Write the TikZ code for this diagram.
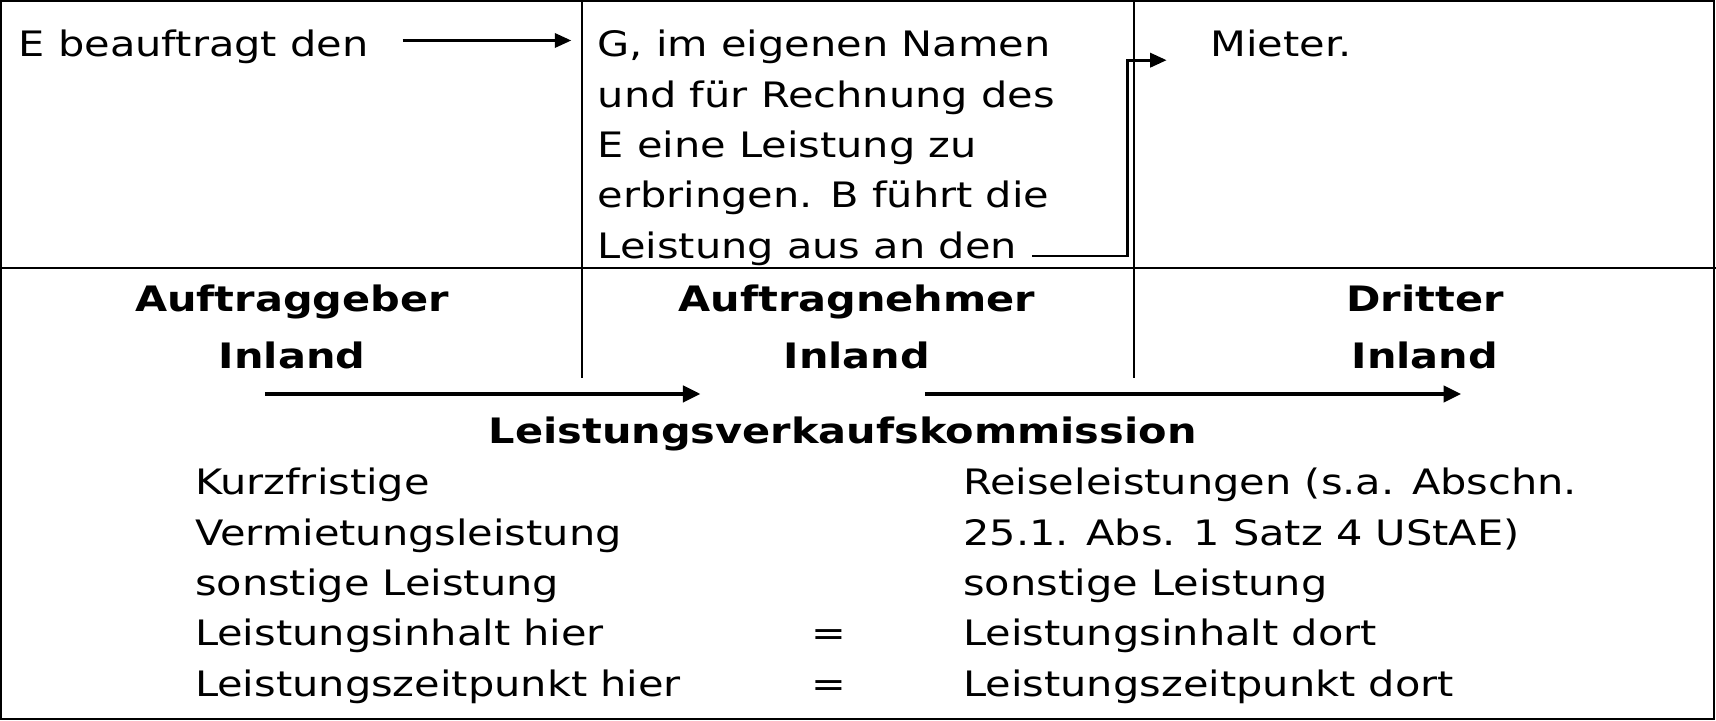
\documentclass[tikz,border=0pt]{standalone}
\usepackage{fontspec}
\setmainfont[FakeStretch=1.185]{DejaVu Sans}
\usetikzlibrary{arrows.meta}
\usetikzlibrary{positioning}

\begin{document}
\begin{tikzpicture}[x=1pt,y=1pt,>={Triangle[length=16pt,width=15pt]},
                    txt/.style={font=\fontsize{32}{46}\selectfont,inner sep=0pt,anchor=base west},
                    head/.style={font=\fontsize{32}{46}\selectfont\bfseries,inner sep=0pt,anchor=base},
                    rule/.style={line width=1.5pt},
                    flow/.style={->,line width=3pt},
                    link/.style={->,line width=2.5pt,>={Triangle[length=15pt,width=13pt]}}]

  \useasboundingbox (0,0) rectangle (1568,-658);

  % frame and columns
  \draw[line width=2pt] (1,-1) rectangle (1566,-657);
  \draw[line width=2pt] (0,-245) -- (1568,-245);
  \draw[rule] (532,0) -- (532,-345);
  \draw[rule] (1036,0) -- (1036,-345);

  % top row
  \node[txt] (E) at (17,-52) {E beauftragt den};
  \node[txt] (G1) at (546,-52) {G, im eigenen Namen};
  \node[txt] (G2) [below=46pt of G1.base west,anchor=base west] {und für Rechnung des};
  \node[txt] (G3) [below=46pt of G2.base west,anchor=base west] {E eine Leistung zu};
  \node[txt] (G4) [below=46pt of G3.base west,anchor=base west] {erbringen. B führt die};
  \node[txt] (G5) [below=46pt of G4.base west,anchor=base west] {Leistung aus an den};
  \node[txt] (M) at (1106,-52) {Mieter.};

  \coordinate (e1) at (368,-37);
  \coordinate (e2) at (522,-37);
  \coordinate (b0) at (943,-234);
  \coordinate (b1) at (1030,-55);
  \coordinate (b2) at (1066,-55);

  \draw[link] (e1) -- (e2);
  \draw[link] (b0) -| (b1) -- (b2);

  % parties
  \node[head] (AG) at (267,-285) {Auftraggeber};
  \node[head] (AGI) [below=52pt of AG.base,anchor=base] {Inland};
  \node[head] (AN) at (783,-285) {Auftragnehmer};
  \node[head] (ANI) [below=52pt of AN.base,anchor=base] {Inland};
  \node[head] (D) at (1302,-285) {Dritter};
  \node[head] (DI) [below=52pt of D.base,anchor=base] {Inland};

  \coordinate (p1) at (242,-360);
  \coordinate (p2) at (640,-360);
  \coordinate (q1) at (845,-360);
  \coordinate (q2) at (1335,-360);

  \draw[flow] (p1) -- (p2);
  \draw[flow] (q1) -- (q2);

  \node[head] (LVK) at (770,-405) {Leistungsverkaufskommission};

  % comparison
  \node[txt] (L1) at (178,-452) {Kurzfristige};
  \node[txt] (L2) [below=46pt of L1.base west,anchor=base west] {Vermietungsleistung};
  \node[txt] (L3) [below=46pt of L2.base west,anchor=base west] {sonstige Leistung};
  \node[txt] (L4) [below=46pt of L3.base west,anchor=base west] {Leistungsinhalt hier};
  \node[txt] (L5) [below=46pt of L4.base west,anchor=base west] {Leistungszeitpunkt hier};

  \node[txt] (R1) at (880,-452) {Reiseleistungen (s.a. Abschn.};
  \node[txt] (R2) [below=46pt of R1.base west,anchor=base west] {25.1. Abs. 1 Satz 4 UStAE)};
  \node[txt] (R3) [below=46pt of R2.base west,anchor=base west] {sonstige Leistung};
  \node[txt] (R4) [below=46pt of R3.base west,anchor=base west] {Leistungsinhalt dort};
  \node[txt] (R5) [below=46pt of R4.base west,anchor=base west] {Leistungszeitpunkt dort};

  \node[head,font=\fontsize{32}{46}\selectfont] (EQ4) at (757,-590) {=};
  \node[head,font=\fontsize{32}{46}\selectfont] (EQ5) at (757,-636) {=};
\end{tikzpicture}
\end{document}
